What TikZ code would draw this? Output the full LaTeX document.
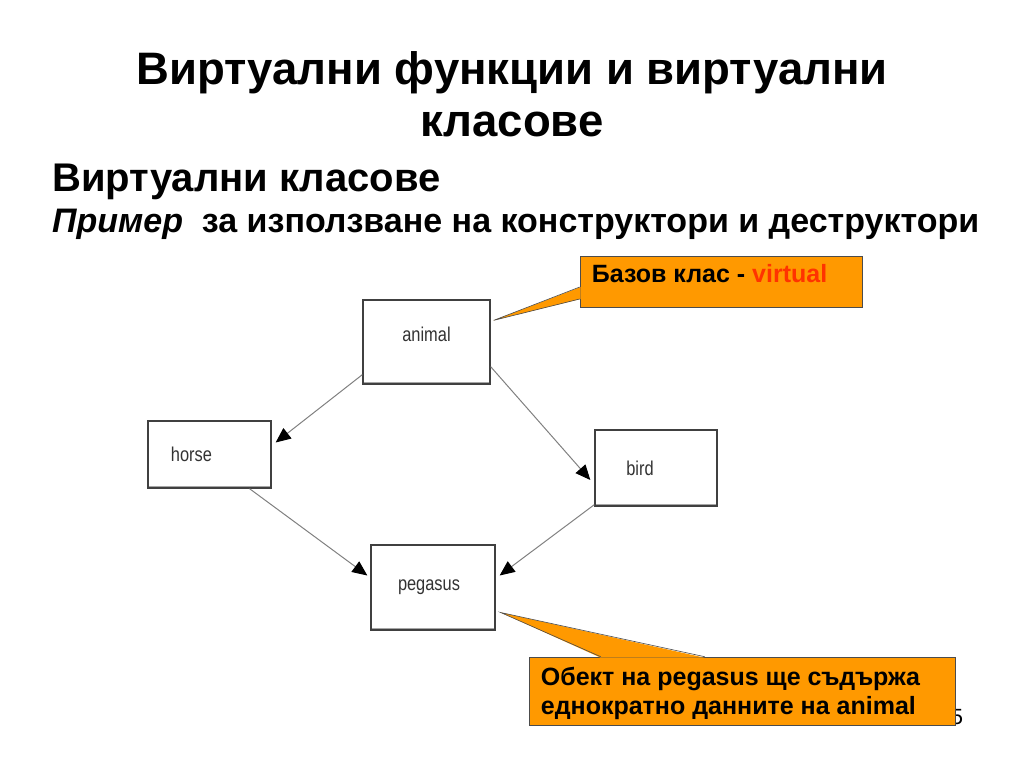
\documentclass[tikz,border=0pt]{standalone}
\usepackage{fontspec}
\setmainfont{Liberation Sans}
\newfontfamily\narrowfont{Liberation Sans}[FakeStretch=0.82]
\usetikzlibrary{arrows.meta}
\definecolor{noteorange}{HTML}{FF9900}
\definecolor{virtred}{HTML}{FF3300}
\tikzset{
  cls/.style={draw=black!75, line width=1.3pt, fill=white,
    path picture={\draw[black!35, line width=5pt]
      (path picture bounding box.south west) -- (path picture bounding box.south east);}},
  clsname/.style={font=\narrowfont\fontsize{20}{22}\selectfont, text=black!80},
  note/.style={draw=black!70, fill=noteorange, line width=0.6pt},
  notetext/.style={anchor=north west, align=left, inner sep=0},
  conn/.style={draw=black!50, line width=1pt, -{Triangle[black, length=15pt, width=13pt]}},
}
\begin{document}
\begin{tikzpicture}[x=1pt, y=-1pt]
  \useasboundingbox (0,0) rectangle (1024,768);
  % titles
  \node [align=center, font=\bfseries\fontsize{45.5}{52}\selectfont] (title) at (512,94)
    {Виртуални функции и виртуални\\класове};
  \node [anchor=base west, inner sep=0, font=\bfseries\fontsize{40}{42}\selectfont] (sub) at (52,191)
    {Виртуални класове};
  \node [anchor=base west, inner sep=0, font=\bfseries\fontsize{34}{36}\selectfont] (ex) at (52,232)
    {\itshape Пример\upshape\ \ за използване на конструктори и деструктори};
  % class boxes
  \node [cls, minimum width=127pt, minimum height=84pt,
    label={[clsname, yshift=8pt]center:animal}] (animal) at (426.5,342) {};
  \node [cls, minimum width=123pt, minimum height=67pt,
    label={[clsname, anchor=west, xshift=20pt]west:horse}] (horse) at (209.5,454.5) {};
  \node [cls, minimum width=122pt, minimum height=76pt,
    label={[clsname, xshift=-16pt]center:bird}] (bird) at (656,468) {};
  \node [cls, minimum width=124pt, minimum height=85pt,
    label={[clsname, xshift=-4pt]center:pegasus}] (pegasus) at (433,587.5) {};
  % inheritance
  \draw [conn] ([yshift=10pt]animal.south west) -- ([xshift=4pt,yshift=12pt]horse.east);
  \draw [conn] ([yshift=18pt]animal.south east) -- ([xshift=-4pt,yshift=-12pt]bird.west);
  \draw [conn] ([xshift=40pt]horse.south) -- ([xshift=-3pt,yshift=12pt]pegasus.west);
  \draw [conn] ([yshift=2pt]bird.south west) -- ([xshift=4pt,yshift=12pt]pegasus.east);
  % slide number
  \node [font=\fontsize{22}{24}\selectfont] (num) at (957,717) {5};
  % callouts
  \coordinate (tip1) at ([xshift=3pt,yshift=-21pt]animal.north east);
  \coordinate (tip2) at ([xshift=5pt,yshift=-25pt]pegasus.east);
  \node [note, minimum width=282pt, minimum height=51pt] (base) at (721,281.5) {};
  \fill [noteorange] ([xshift=1pt,yshift=-5.5pt]base.west) -- (tip1) -- ([xshift=1pt,yshift=-17.5pt]base.west) -- cycle;
  \draw [black!70, line width=0.6pt] ([yshift=-5.5pt]base.west) -- (tip1) -- ([yshift=-17.5pt]base.west);
  \node [notetext, font=\bfseries\fontsize{25}{28}\selectfont] (basetxt)
    at ([xshift=12pt,yshift=-8pt]base.north west) {Базов клас - \textcolor{virtred}{virtual}};
  \node [note, minimum width=426pt, minimum height=68pt] (obj) at (742,691) {};
  \fill [noteorange] ([xshift=72pt,yshift=-1pt]obj.north west) -- (tip2) -- ([xshift=176pt,yshift=-1pt]obj.north west) -- cycle;
  \draw [black!70, line width=0.6pt] ([xshift=72pt]obj.north west) -- (tip2) -- ([xshift=176pt]obj.north west);
  \node [notetext, font=\bfseries\fontsize{25}{29}\selectfont] (objtxt)
    at ([xshift=12pt,yshift=-10pt]obj.north west)
    {Обект на pegasus ще съдържа\\еднократно данните на animal};
\end{tikzpicture}
\end{document}
